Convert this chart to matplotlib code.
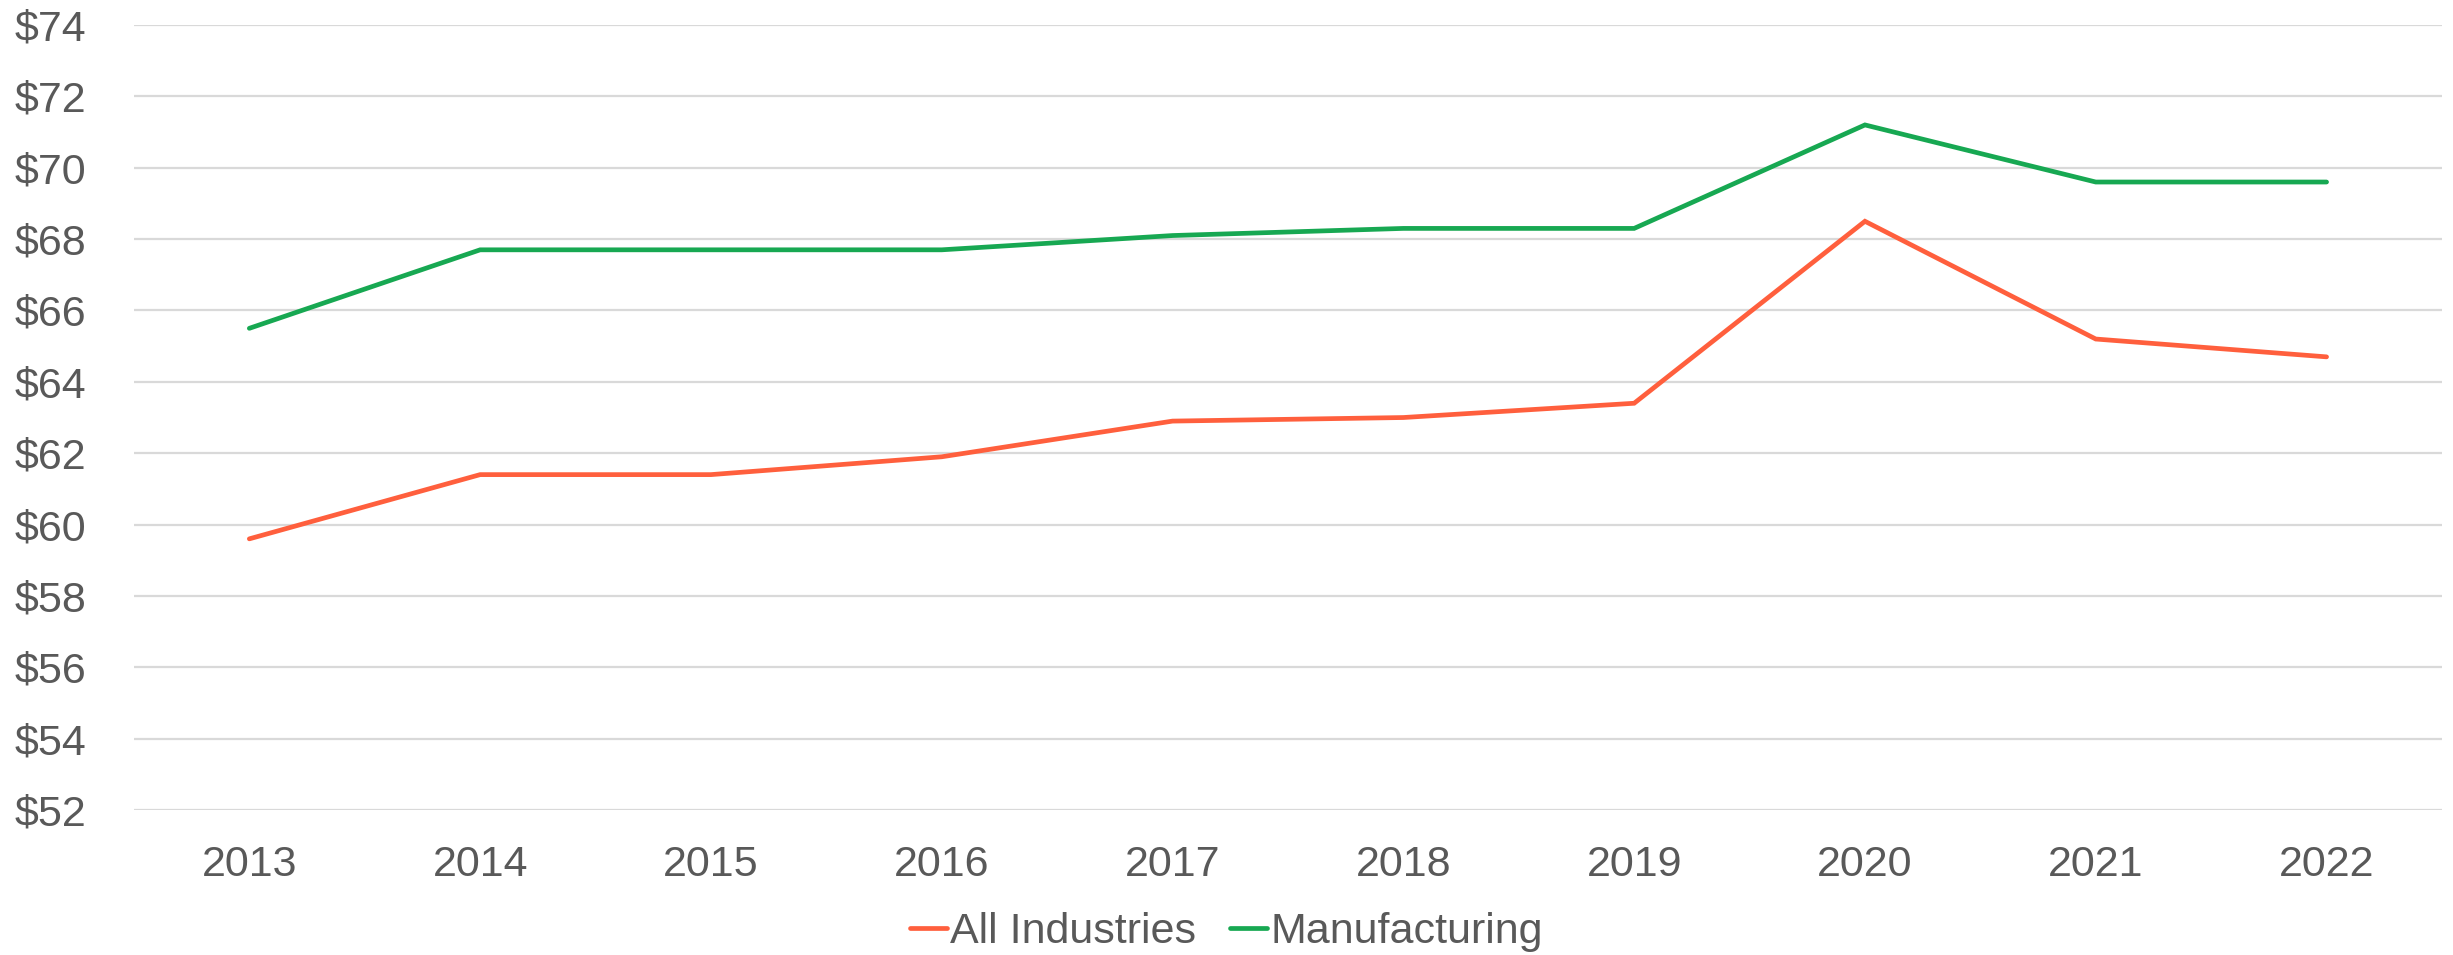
import matplotlib.pyplot as plt
from matplotlib.ticker import FuncFormatter

# Data
years = ['2013', '2014', '2015', '2016', '2017', '2018', '2019', '2020', '2021', '2022']
all_industries = [59.6, 61.4, 61.4, 61.9, 62.9, 63.0, 63.4, 68.5, 65.2, 64.7]
manufacturing = [65.5, 67.7, 67.7, 67.7, 68.1, 68.3, 68.3, 71.2, 69.6, 69.6]
y_ticks = list(range(52, 75, 2))

plt.rcParams['font.family'] = ['Liberation Sans', 'DejaVu Sans']
text_color = '#595959'

fig = plt.figure(figsize=(24.53, 9.55), dpi=100)
ax = fig.add_axes([0.0546, 0.1518, 0.9409, 0.822])

x = range(len(years))
ax.plot(x, all_industries, color='#FF5F3D', lw=3.4, label='All Industries',
        solid_capstyle='round', solid_joinstyle='miter')
ax.plot(x, manufacturing, color='#17A852', lw=3.4, label='Manufacturing',
        solid_capstyle='round', solid_joinstyle='miter')

ax.set_xlim(-0.5, len(years) - 0.5)
ax.set_ylim(52, 74)
ax.set_xticks(list(x))
ax.set_xticklabels(years)
ax.set_yticks(y_ticks)
ax.yaxis.set_major_formatter(FuncFormatter(lambda v, p: f'${v:.0f}'))
ax.tick_params(axis='both', length=0, labelsize=31, colors=text_color)
ax.tick_params(axis='x', pad=25)
ax.tick_params(axis='y', pad=34)

ax.grid(axis='y', color='#D9D9D9', lw=1.6)
ax.set_axisbelow(True)
for s in ax.spines.values():
    s.set_visible(False)

leg = fig.legend(loc='center', bbox_to_anchor=(0.5, 0.024), ncol=2, frameon=False,
                 fontsize=31, handlelength=0.85, handletextpad=0.08, columnspacing=0.8)
for t in leg.get_texts():
    t.set_color(text_color)

fig.savefig('out.png', dpi=100)
